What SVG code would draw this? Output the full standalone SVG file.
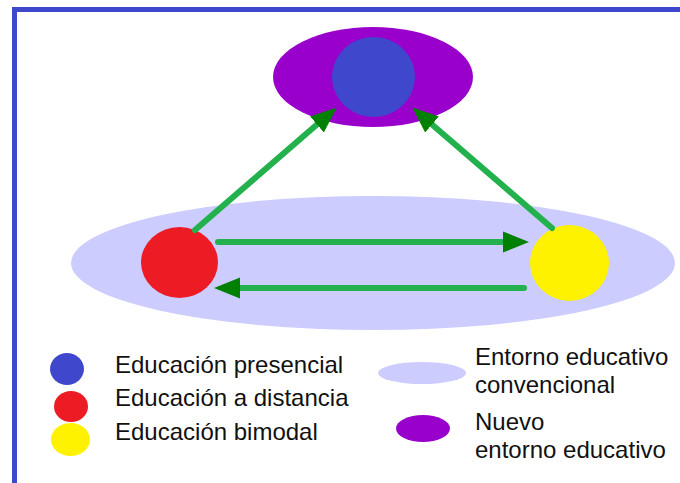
<svg xmlns="http://www.w3.org/2000/svg" width="680" height="483" viewBox="0 0 680 483">
  <style>
    .lbl { font-family: "Liberation Sans", Arial, sans-serif; font-size: 24px; fill: #111; }
    .conn { stroke: #22b14c; stroke-width: 6; fill: none; stroke-linecap: round; marker-end: url(#head); }
    .lav { fill: #ccccff; }
    .pur { fill: #9900cc; }
    .blu { fill: #3f48cc; }
    .red { fill: #ed1c24; }
    .yel { fill: #fff200; }
  </style>
  <defs>
    <marker id="head" markerUnits="userSpaceOnUse" markerWidth="26" markerHeight="22" viewBox="0 0 26 22" refX="0" refY="11" orient="auto">
      <path d="M0,0.5 L26,11 L0,21.5 z" fill="#008000"/>
    </marker>
  </defs>
  <rect width="680" height="483" fill="#ffffff"/>
  <g id="frame" fill="none" stroke="#3f48cc" stroke-width="5">
    <path d="M14.5,483 L14.5,9.5 L680,9.5"/>
  </g>
  <g id="entorno-convencional">
    <ellipse class="lav" cx="373" cy="263" rx="302" ry="67"/>
  </g>
  <g id="nuevo-entorno">
    <ellipse class="pur" cx="373" cy="77" rx="100" ry="50"/>
  </g>
  <g id="presencial">
    <ellipse class="blu" cx="373.5" cy="77" rx="41.5" ry="40"/>
  </g>
  <g id="distancia">
    <ellipse class="red" cx="179.5" cy="262.5" rx="38.5" ry="35.5"/>
  </g>
  <g id="bimodal">
    <ellipse class="yel" cx="569.5" cy="263" rx="39.5" ry="38"/>
  </g>
  <g id="connectors">
    <line class="conn" x1="195" y1="230" x2="317" y2="124.5"/>
    <line class="conn" x1="552" y1="228" x2="432" y2="124.5"/>
    <line class="conn" x1="218" y1="242" x2="503" y2="242"/>
    <line class="conn" x1="524" y1="288" x2="240" y2="288"/>
  </g>
  <g id="legend-presencial">
    <ellipse class="blu" cx="67" cy="369" rx="17" ry="16"/>
    <text class="lbl" x="115" y="373">Educación presencial</text>
  </g>
  <g id="legend-distancia">
    <ellipse class="red" cx="71" cy="406.5" rx="17" ry="15.5"/>
    <text class="lbl" x="115" y="406">Educación a distancia</text>
  </g>
  <g id="legend-bimodal">
    <ellipse class="yel" cx="70.5" cy="439.5" rx="19.5" ry="16.5"/>
    <text class="lbl" x="115" y="440">Educación bimodal</text>
  </g>
  <g id="legend-convencional">
    <ellipse class="lav" cx="422" cy="373" rx="44" ry="11"/>
    <text class="lbl" x="475" y="365">Entorno educativo</text>
    <text class="lbl" x="475" y="393">convencional</text>
  </g>
  <g id="legend-nuevo">
    <ellipse class="pur" cx="423" cy="428.5" rx="27" ry="13.5"/>
    <text class="lbl" x="475" y="430">Nuevo</text>
    <text class="lbl" x="475" y="458">entorno educativo</text>
  </g>
</svg>
